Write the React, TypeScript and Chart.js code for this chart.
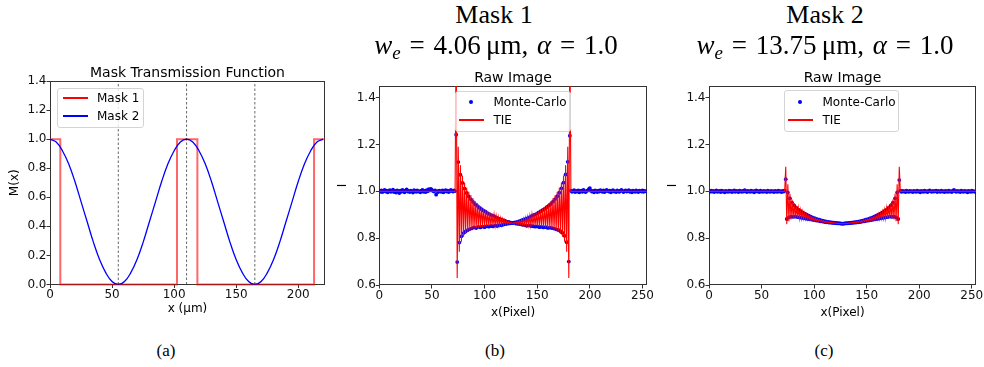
import React, { useEffect, useRef } from "react";
import { Chart, registerables } from "chart.js";

Chart.register(...registerables);

// ---------------- DATA ----------------
// Panel (a): mask transmission function
const MASK1_X = [0, 8.3, 8.3, 102.3, 102.3, 118.7, 118.7, 212.7, 212.7, 221.5];
const MASK1_Y = [1, 1, 0, 0, 1, 1, 0, 0, 1, 1];
const MASK2_X = [0, 5, 10, 15, 20, 25, 30, 35, 40, 45, 50, 55, 60, 65, 70, 75, 80, 85, 90, 95, 100, 105, 110, 115, 120, 125, 130, 135, 140, 145, 150, 155, 160, 165, 170, 175, 180, 185, 190, 195, 200, 205, 210, 215, 220];
const MASK2_Y = [1.0, 0.98, 0.92, 0.83, 0.71, 0.57, 0.43, 0.29, 0.17, 0.08, 0.02, 0.0, 0.02, 0.08, 0.17, 0.29, 0.43, 0.57, 0.71, 0.83, 0.92, 0.98, 1.0, 0.98, 0.92, 0.83, 0.71, 0.57, 0.43, 0.29, 0.17, 0.08, 0.02, 0.0, 0.02, 0.08, 0.17, 0.29, 0.43, 0.57, 0.71, 0.83, 0.92, 0.98, 1.0];
const PERIOD_MARKS_X = [55, 110, 165];

// Panels (b),(c): pixel ranges
const LEFT_START = 0;     // flat region before the mask edge
const INNER_START = 73;   // first pixel of the oscillating region
const RIGHT_START = 182;  // first pixel after the region
const TIE_FLAT_X = [0, 72, 182, 254];
const TIE_FLAT_LEVEL = 1.0;

// Panel (b) — Mask 1, Monte-Carlo
const MC_B_LEFT = [
  1.002, 0.998, 1.004, 0.997, 1.001, 1.006, 0.999, 1.003, 0.996, 1.002,
  1.005, 0.998, 1.001, 1.007, 0.997, 1.002, 0.995, 1.004, 1.000, 0.993,
  1.003, 0.998, 1.006, 1.001, 0.996, 1.004, 1.008, 0.999, 1.002, 0.997,
  1.003, 1.000, 0.995, 1.005, 1.002, 0.998, 1.004, 0.999, 1.001, 0.996,
  1.003, 1.006, 0.998, 1.002, 0.997, 1.005, 1.000, 1.009, 1.004, 1.011,
  1.006, 1.002, 0.999, 1.004, 0.986, 1.001, 0.997, 1.003, 1.000, 0.998,
  1.004, 0.996, 1.002, 1.005, 0.999, 1.003, 0.997, 1.001, 1.006, 1.002,
  0.999, 1.004, 1.001,
];
const MC_B_INNER = [
  1.242, 0.698, 1.125, 0.781, 1.071, 0.808, 1.036, 0.822,
  1.012, 0.829, 0.993, 0.834, 0.978, 0.839, 0.966, 0.842,
  0.955, 0.846, 0.945, 0.843, 0.938, 0.848, 0.930, 0.846,
  0.924, 0.849, 0.918, 0.847, 0.913, 0.851, 0.906, 0.849,
  0.902, 0.852, 0.897, 0.850, 0.894, 0.854, 0.889, 0.852,
  0.885, 0.856, 0.881, 0.855, 0.878, 0.858, 0.875, 0.860,
  0.871, 0.862, 0.869, 0.863, 0.866, 0.864, 0.865, 0.866,
  0.867, 0.862, 0.870, 0.861, 0.873, 0.859, 0.876, 0.857,
  0.879, 0.856, 0.882, 0.853, 0.886, 0.855, 0.890, 0.852,
  0.895, 0.851, 0.899, 0.849, 0.903, 0.850, 0.909, 0.847,
  0.914, 0.848, 0.920, 0.846, 0.925, 0.847, 0.932, 0.844,
  0.939, 0.845, 0.946, 0.843, 0.956, 0.841, 0.967, 0.838,
  0.979, 0.835, 0.994, 0.830, 1.013, 0.823, 1.037, 0.810,
  1.072, 0.783, 1.126, 0.700, 1.238,
];
const MC_B_RIGHT = [
  1.003, 0.998, 1.001, 1.005, 0.997, 1.002, 0.999, 1.004, 0.996, 1.001,
  1.003, 0.998, 1.006, 1.000, 0.997, 1.002, 1.004, 1.009, 1.014, 1.003,
  0.999, 1.002, 0.996, 1.004, 1.001, 0.997, 1.003, 0.999, 1.005, 1.002,
  0.998, 1.004, 0.997, 1.001, 1.006, 1.002, 0.999, 1.003, 0.996, 1.002,
  1.005, 0.999, 1.001, 0.997, 1.004, 1.000, 0.998, 1.003, 1.006, 1.001,
  0.997, 1.002, 1.004, 0.999, 1.001, 1.005, 0.998, 1.002, 0.996, 1.003,
  1.001, 0.998, 1.004, 1.000, 0.997, 1.003, 1.001, 0.999, 1.004, 0.998,
  1.002, 1.000,
];
// Panel (b) — TIE inside the oscillating region
const TIE_B_INNER = [
  1.700, 0.630, 1.190, 0.742, 1.112, 0.785, 1.068, 0.806,
  1.038, 0.818, 1.015, 0.827, 0.998, 0.833, 0.983, 0.837,
  0.970, 0.841, 0.959, 0.843, 0.950, 0.845, 0.941, 0.847,
  0.934, 0.849, 0.927, 0.850, 0.921, 0.851, 0.915, 0.852,
  0.909, 0.853, 0.904, 0.854, 0.899, 0.855, 0.894, 0.856,
  0.890, 0.857, 0.886, 0.858, 0.882, 0.859, 0.878, 0.860,
  0.874, 0.861, 0.871, 0.862, 0.868, 0.863, 0.865, 0.863,
  0.868, 0.862, 0.871, 0.861, 0.874, 0.860, 0.878, 0.859,
  0.882, 0.858, 0.886, 0.857, 0.890, 0.856, 0.894, 0.855,
  0.899, 0.854, 0.904, 0.853, 0.909, 0.852, 0.915, 0.851,
  0.921, 0.850, 0.927, 0.849, 0.934, 0.847, 0.941, 0.845,
  0.950, 0.843, 0.959, 0.841, 0.970, 0.837, 0.983, 0.833,
  0.998, 0.827, 1.015, 0.818, 1.038, 0.806, 1.068, 0.785,
  1.112, 0.742, 1.190, 0.630, 1.700,
];

// Panel (c) — Mask 2, Monte-Carlo
const MC_C_LEFT = [
  1.001, 0.998, 1.003, 0.999, 1.002, 0.997, 1.001, 1.004, 0.998, 1.000,
  1.002, 0.997, 1.003, 0.999, 1.001, 0.996, 1.002, 1.000, 0.998, 1.003,
  0.999, 1.002, 0.997, 1.001, 1.004, 0.998, 1.002, 1.000, 0.997, 1.003,
  1.001, 0.998, 1.002, 0.999, 1.005, 1.001, 0.997, 1.002, 1.000, 0.998,
  1.003, 0.999, 1.001, 0.996, 1.002, 1.004, 0.999, 1.001, 0.997, 1.003,
  1.000, 0.998, 1.002, 0.999, 1.001, 0.997, 1.003, 1.000, 0.998, 1.002,
  0.999, 1.001, 0.997, 1.002, 1.000, 0.998, 1.003, 0.999, 1.001, 0.997,
  1.002, 0.999, 1.003,
];
const MC_C_INNER = [
  1.052, 0.882, 0.995, 0.889, 0.970, 0.892, 0.952, 0.891,
  0.940, 0.892, 0.930, 0.890, 0.922, 0.889, 0.916, 0.887,
  0.910, 0.886, 0.905, 0.884, 0.900, 0.882, 0.896, 0.881,
  0.892, 0.879, 0.888, 0.877, 0.885, 0.875, 0.881, 0.874,
  0.879, 0.872, 0.876, 0.871, 0.874, 0.869, 0.872, 0.868,
  0.870, 0.867, 0.868, 0.866, 0.867, 0.865, 0.866, 0.864,
  0.865, 0.863, 0.864, 0.863, 0.863, 0.862, 0.862, 0.862,
  0.863, 0.863, 0.864, 0.863, 0.865, 0.864, 0.866, 0.865,
  0.867, 0.866, 0.868, 0.867, 0.870, 0.868, 0.872, 0.869,
  0.874, 0.871, 0.876, 0.872, 0.879, 0.874, 0.881, 0.875,
  0.885, 0.877, 0.888, 0.879, 0.892, 0.881, 0.896, 0.882,
  0.900, 0.884, 0.905, 0.886, 0.910, 0.887, 0.916, 0.889,
  0.922, 0.890, 0.930, 0.892, 0.940, 0.891, 0.952, 0.892,
  0.970, 0.889, 0.995, 0.882, 1.048,
];
const MC_C_RIGHT = [
  1.003, 0.998, 1.002, 0.999, 1.001, 0.997, 1.003, 1.000, 0.998, 1.002,
  0.999, 1.001, 0.997, 1.002, 1.000, 0.998, 1.003, 0.999, 1.001, 0.996,
  1.002, 1.000, 0.998, 1.003, 0.999, 1.001, 0.997, 1.002, 1.004, 1.000,
  0.998, 1.002, 0.999, 1.001, 1.003, 0.997, 1.002, 1.000, 0.998, 1.003,
  0.999, 1.001, 0.997, 1.002, 1.000, 0.998, 1.003, 0.999, 1.001, 0.997,
  1.002, 1.006, 1.001, 0.998, 1.002, 0.999, 1.001, 0.997, 1.003, 1.000,
  0.998, 1.002, 0.999, 1.001, 0.996, 1.002, 1.000, 0.998, 1.003, 0.999,
  1.001, 0.998,
];
const TIE_C_INNER = [
  1.105, 0.860, 1.030, 0.872, 0.990, 0.880, 0.965, 0.884,
  0.950, 0.886, 0.938, 0.886, 0.928, 0.885, 0.920, 0.884,
  0.913, 0.883, 0.907, 0.881, 0.902, 0.880, 0.897, 0.878,
  0.893, 0.877, 0.889, 0.875, 0.886, 0.874, 0.882, 0.872,
  0.880, 0.871, 0.877, 0.870, 0.875, 0.868, 0.873, 0.867,
  0.871, 0.866, 0.869, 0.865, 0.868, 0.864, 0.866, 0.864,
  0.865, 0.863, 0.864, 0.863, 0.863, 0.862, 0.862, 0.862,
  0.863, 0.863, 0.864, 0.863, 0.865, 0.864, 0.866, 0.864,
  0.868, 0.865, 0.869, 0.866, 0.871, 0.867, 0.873, 0.868,
  0.875, 0.870, 0.877, 0.871, 0.880, 0.872, 0.882, 0.874,
  0.886, 0.875, 0.889, 0.877, 0.893, 0.878, 0.897, 0.880,
  0.902, 0.881, 0.907, 0.883, 0.913, 0.884, 0.920, 0.885,
  0.928, 0.886, 0.938, 0.886, 0.950, 0.884, 0.965, 0.880,
  0.990, 0.872, 1.030, 0.860, 1.105,
];

// Axis ranges / ticks
const A_X_RANGE = [0, 221.5];
const A_Y_RANGE = [0, 1.4];
const P_X_RANGE = [0, 254];
const P_Y_RANGE = [0.6, 1.45];
const X_STEP = 50;
const Y_STEP = 0.2;

// ---------------- STYLE ----------------
const SANS = "'DejaVu Sans', sans-serif";
const SERIF = "'Liberation Serif', 'Times New Roman', serif";
const TICK_COLOR = "#111";
const AXIS_COLOR = "#333";
const RED = "#ff0000";
const BLUE = "#0000ff";

const framePlugin = {
  id: "frame",
  beforeDatasetsDraw(chart: any) {
    const { ctx, chartArea: a } = chart;
    ctx.save();
    ctx.strokeStyle = AXIS_COLOR;
    ctx.lineWidth = 1;
    const l = Math.round(a.left) + 0.5;
    const t = Math.round(a.top) + 0.5;
    const r = Math.round(a.right) - 0.5;
    const b = Math.round(a.bottom) - 0.5;
    ctx.strokeRect(l, t, r - l, b - t);
    ctx.restore();
  },
};

const GRID = {
  display: true,
  drawOnChartArea: false,
  drawTicks: true,
  tickLength: 3.5,
  color: AXIS_COLOR,
  tickColor: AXIS_COLOR,
};

function xScale(range: number[], title: string, height: number) {
  return {
    type: "linear",
    min: range[0],
    max: range[1],
    ticks: {
      stepSize: X_STEP,
      includeBounds: false,
      padding: 0,
      maxRotation: 0,
      autoSkip: false,
      color: TICK_COLOR,
      font: { family: SANS, size: 12 },
      callback: (v: any) => String(Math.round(Number(v))),
    },
    grid: GRID,
    border: { display: false },
    title: {
      display: true,
      text: title,
      color: "#000",
      font: { family: SANS, size: 12 },
      padding: { top: 0, bottom: 0 },
    },
    afterFit: (s: any) => {
      s.height = height;
    },
  };
}

function yScale(range: number[], title: string, width: number, titlePad: number) {
  return {
    type: "linear",
    min: range[0],
    max: range[1],
    ticks: {
      stepSize: Y_STEP,
      includeBounds: false,
      padding: 0,
      color: TICK_COLOR,
      font: { family: SANS, size: 12 },
      callback: (v: any) => Number(v).toFixed(1),
    },
    grid: GRID,
    border: { display: false },
    title: {
      display: true,
      text: title,
      color: "#000",
      font: { family: SANS, size: 12 },
      padding: { top: titlePad, bottom: 0 },
    },
    afterFit: (s: any) => {
      s.width = width;
    },
  };
}

function seq(start: number, ys: number[]) {
  return ys.map((y, i) => ({ x: start + i, y }));
}

function baseOptions(padding: any, scales: any) {
  return {
    responsive: false,
    maintainAspectRatio: false,
    animation: false,
    events: [],
    layout: { padding },
    plugins: {
      legend: { display: false },
      title: { display: false },
      tooltip: { enabled: false },
    },
    scales,
  };
}

function buildMaskConfig() {
  const dashed = PERIOD_MARKS_X.map((x) => ({
    data: [
      { x, y: A_Y_RANGE[0] },
      { x, y: A_Y_RANGE[1] },
    ],
    borderColor: "rgba(0,0,0,0.75)",
    borderWidth: 0.8,
    borderDash: [2.5, 2],
    pointRadius: 0,
    order: 0,
  }));
  return {
    type: "line",
    data: {
      datasets: [
        ...dashed,
        {
          label: "Mask 2",
          data: MASK2_X.map((x, i) => ({ x, y: MASK2_Y[i] })),
          borderColor: BLUE,
          borderWidth: 1.3,
          tension: 0.4,
          pointRadius: 0,
          order: 1,
        },
        {
          label: "Mask 1",
          data: MASK1_X.map((x, i) => ({ x, y: MASK1_Y[i] })),
          borderColor: "rgba(255,0,0,0.6)",
          borderWidth: 2,
          tension: 0,
          pointRadius: 0,
          clip: 3,
          order: 2,
        },
      ],
    },
    options: baseOptions(
      { left: 0, right: 5, top: 21, bottom: 8.5 },
      { x: xScale(A_X_RANGE, "x (μm)", 32), y: yScale(A_Y_RANGE, "M(x)", 50, 8) }
    ),
    plugins: [framePlugin],
  };
}

function buildRawConfig(
  mcLeft: number[],
  mcInner: number[],
  mcRight: number[],
  tieInner: number[],
  padRight: number,
  yWidth: number
) {
  const mc = [...seq(LEFT_START, mcLeft), ...seq(INNER_START, mcInner), ...seq(RIGHT_START, mcRight)];
  const tie = [
    { x: TIE_FLAT_X[0], y: TIE_FLAT_LEVEL },
    { x: TIE_FLAT_X[1], y: TIE_FLAT_LEVEL },
    ...seq(INNER_START, tieInner),
    { x: TIE_FLAT_X[2], y: TIE_FLAT_LEVEL },
    { x: TIE_FLAT_X[3], y: TIE_FLAT_LEVEL },
  ];
  return {
    type: "line",
    data: {
      datasets: [
        {
          label: "TIE",
          data: tie,
          borderColor: RED,
          borderWidth: 1.1,
          pointRadius: 0,
          tension: 0,
          order: 0,
        },
        {
          label: "Monte-Carlo",
          data: mc,
          showLine: false,
          pointRadius: 1.9,
          pointBorderWidth: 0,
          pointBackgroundColor: BLUE,
          borderColor: BLUE,
          order: 1,
        },
      ],
    },
    options: baseOptions(
      { left: 0, right: padRight, top: 26, bottom: 5 },
      { x: xScale(P_X_RANGE, "x(Pixel)", 35), y: yScale(P_Y_RANGE, "I", yWidth, 6) }
    ),
    plugins: [framePlugin],
  };
}

// ---------------- COMPONENTS ----------------
function ChartCanvas(props: { left: number; top: number; width: number; height: number; build: () => any }) {
  const ref = useRef<HTMLCanvasElement | null>(null);
  useEffect(() => {
    if (!ref.current) return;
    const chart = new Chart(ref.current, props.build());
    return () => chart.destroy();
  }, []);
  return (
    <div style={{ position: "absolute", left: props.left, top: props.top, width: props.width, height: props.height }}>
      <canvas ref={ref} width={props.width} height={props.height} style={{ width: props.width, height: props.height, display: "block" }} />
    </div>
  );
}

function Text(props: { cx: number; cy: number; size: number; family: string; children: any; w?: number; wordSpacing?: number }) {
  const w = props.w ?? 320;
  const lh = Math.round(props.size * 1.3);
  return (
    <div
      style={{
        position: "absolute",
        left: props.cx - w / 2,
        top: props.cy - lh / 2,
        width: w,
        height: lh,
        lineHeight: lh + "px",
        textAlign: "center",
        fontSize: props.size,
        fontFamily: props.family,
        color: "#000",
        whiteSpace: "nowrap",
        wordSpacing: props.wordSpacing ?? 0,
        zIndex: 3,
      }}
    >
      {props.children}
    </div>
  );
}

type Row = { y: number; kind: "line" | "dot"; color: string; label: string };

function Legend(props: { left: number; top: number; width: number; height: number; sx0: number; sx1: number; tx: number; rows: Row[] }) {
  return (
    <div
      style={{
        position: "absolute",
        left: props.left,
        top: props.top,
        width: props.width,
        height: props.height,
        boxSizing: "border-box",
        border: "1px solid #d4d4d4",
        borderRadius: 3,
        background: "rgba(255,255,255,0.8)",
        zIndex: 2,
      }}
    >
      {props.rows.map((r, i) => (
        <React.Fragment key={i}>
          {r.kind === "line" ? (
            <div
              style={{
                position: "absolute",
                left: props.sx0,
                top: r.y - 2,
                width: props.sx1 - props.sx0,
                height: 2,
                background: r.color,
              }}
            />
          ) : (
            <div
              style={{
                position: "absolute",
                left: Math.round((props.sx0 + props.sx1) / 2) - 3,
                top: r.y - 3,
                width: 4,
                height: 4,
                borderRadius: "50%",
                background: r.color,
              }}
            />
          )}
          <div
            style={{
              position: "absolute",
              left: props.tx - 1,
              top: r.y - 1 - 8,
              height: 16,
              lineHeight: "16px",
              fontSize: 12,
              fontFamily: SANS,
              color: "#000",
              whiteSpace: "nowrap",
            }}
          >
            {r.label}
          </div>
        </React.Fragment>
      ))}
    </div>
  );
}

function MathLine(props: { we: string }) {
  return (
    <span>
      <i>w</i>
      <sub style={{ fontSize: "0.7em", verticalAlign: "baseline", position: "relative", top: "0.28em" }}>
        <i>e</i>
      </sub>
      {" = " + props.we + "\u2009μm, "}
      <i>α</i>
      {" = 1.0"}
    </span>
  );
}

export default function App() {
  useEffect(() => {
    document.body.style.margin = "0";
  }, []);
  return (
    <div style={{ position: "fixed", left: 0, top: 0, width: 984, height: 367, background: "#fff", overflow: "hidden" }}>
      <ChartCanvas left={0} top={60} width={330} height={265} build={buildMaskConfig} />
      <ChartCanvas
        left={330}
        top={60}
        width={330}
        height={265}
        build={() => buildRawConfig(MC_B_LEFT, MC_B_INNER, MC_B_RIGHT, TIE_B_INNER, 13.3, 49.3)}
      />
      <ChartCanvas
        left={660}
        top={60}
        width={324}
        height={265}
        build={() => buildRawConfig(MC_C_LEFT, MC_C_INNER, MC_C_RIGHT, TIE_C_INNER, 8, 49)}
      />

      {/* panel titles */}
      <Text cx={187.5} cy={72} size={14} family={SANS}>Mask Transmission Function</Text>
      <Text cx={513} cy={76.7} size={14} family={SANS}>Raw Image</Text>
      <Text cx={842.5} cy={76.7} size={14} family={SANS}>Raw Image</Text>

      {/* headings */}
      <Text cx={494} cy={15} size={26} family={SERIF}>Mask 1</Text>
      <Text cx={496} cy={45} size={27} family={SERIF} wordSpacing={2}><MathLine we="4.06" /></Text>
      <Text cx={825} cy={15} size={26} family={SERIF}>Mask 2</Text>
      <Text cx={825} cy={45} size={27} family={SERIF} wordSpacing={2}><MathLine we="13.75" /></Text>

      {/* captions */}
      <Text cx={166} cy={351} size={17} family={SERIF}>(a)</Text>
      <Text cx={495} cy={351} size={17} family={SERIF}>(b)</Text>
      <Text cx={824} cy={351} size={17} family={SERIF}>(c)</Text>

      {/* legends */}
      <Legend
        left={57}
        top={88}
        width={87}
        height={40}
        sx0={5}
        sx1={30}
        tx={40}
        rows={[
          { y: 10, kind: "line", color: RED, label: "Mask 1" },
          { y: 28, kind: "line", color: BLUE, label: "Mask 2" },
        ]}
      />
      <Legend
        left={455}
        top={91}
        width={116}
        height={41}
        sx0={3}
        sx1={28}
        tx={38.5}
        rows={[
          { y: 11, kind: "dot", color: BLUE, label: "Monte-Carlo" },
          { y: 29, kind: "line", color: RED, label: "TIE" },
        ]}
      />
      <Legend
        left={784}
        top={90}
        width={115}
        height={42}
        sx0={3}
        sx1={28}
        tx={38.5}
        rows={[
          { y: 12, kind: "dot", color: BLUE, label: "Monte-Carlo" },
          { y: 30, kind: "line", color: RED, label: "TIE" },
        ]}
      />
    </div>
  );
}
